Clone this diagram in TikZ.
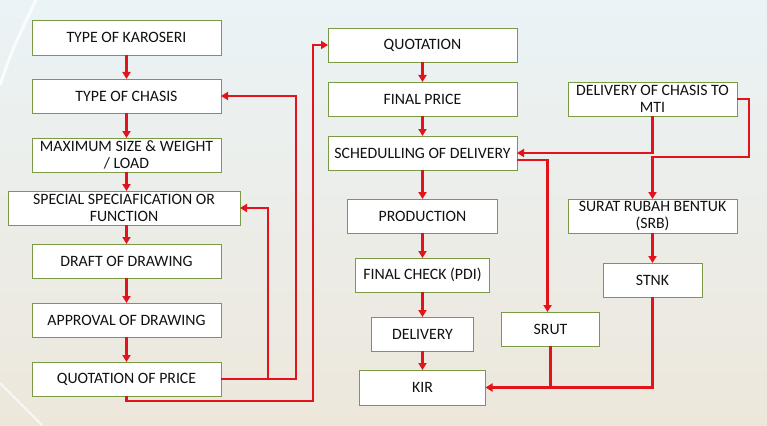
\documentclass[tikz,border=0pt]{standalone}
\usepackage{fontspec}
\setmainfont{Carlito}
\usetikzlibrary{arrows.meta, positioning}
\definecolor{boxline}{HTML}{7A9A48}
\definecolor{flowred}{HTML}{E3121B}
\definecolor{bgtop}{HTML}{EAF3F6}
\definecolor{bgbottom}{HTML}{EDE7DB}
\definecolor{txt}{HTML}{111111}

\begin{document}
\begin{tikzpicture}[
    node distance=24pt,
    box/.style={rectangle, draw=boxline, line width=0.8pt, fill=white, minimum width=189pt, minimum height=34pt, inner sep=1pt, outer sep=0pt, align=center, text=txt, font=\fontsize{15.8}{17}\selectfont},
    arrow/.style={-{Triangle[length=7pt, width=8pt]}, draw=flowred, line width=2.2pt},
    line/.style={draw=flowred, line width=2.2pt},
]

% background
\useasboundingbox (0,0) rectangle (767pt,-425pt);
\shade[top color=bgtop, bottom color=bgbottom] (0,0) rectangle (767pt,-425pt);
\draw[white, line width=3pt, opacity=0.8] (0,-85pt) .. controls (12pt,-50pt) .. (36pt,0);
\draw[white, line width=2pt, opacity=0.7] (0,-383pt) -- (42pt,-425pt);

% Left column: design
\node[box, minimum height=35pt] (karoseri) at (126.5pt,-37.5pt) {TYPE OF KAROSERI};
\node[box, below=24pt of karoseri] (chasis) {TYPE OF CHASIS};
\node[box, below=25pt of chasis] (maxsize) {MAXIMUM SIZE \& WEIGHT\\/ LOAD};
\node[box, minimum width=232pt, below=19pt of maxsize, xshift=-2.5pt] (special) {SPECIAL SPECIAFICATION OR\\FUNCTION};
\node[box, below=19pt of special, xshift=2.5pt] (draft) {DRAFT OF DRAWING};
\node[box, below=25pt of draft] (approval) {APPROVAL OF DRAWING};
\node[box, below=25pt of approval] (quotprice) {QUOTATION OF PRICE};

% Middle column: order
\node[box] (quotation) at (422.5pt,-45pt) {QUOTATION};
\node[box, below=20pt of quotation] (finalprice) {FINAL PRICE};
\node[box, below=20pt of finalprice] (schedule) {SCHEDULLING OF DELIVERY};
\node[box, minimum width=150pt, below=29pt of schedule] (production) {PRODUCTION};
\node[box, minimum width=134pt, below=25pt of production] (finalcheck) {FINAL CHECK (PDI)};
\node[box, minimum width=102pt, below=25pt of finalcheck] (delivery) {DELIVERY};
\node[box, minimum width=126pt, minimum height=35pt, below=19pt of delivery] (kir) {KIR};

% Right column: documents
\node[box, minimum width=169pt] (chasismti) at (652.5pt,-99pt) {DELIVERY OF CHASIS TO\\MTI};
\node[box, minimum width=169pt, below=83pt of chasismti] (srb) {SURAT RUBAH BENTUK\\(SRB)};
\node[box, minimum width=99pt, below=30pt of srb] (stnk) {STNK};
\node[box, minimum width=98pt, right=28pt of delivery, yshift=5pt] (srut) {SRUT};

% Arrows
\draw[arrow] (karoseri) -- (chasis);
\draw[arrow] (chasis) -- (maxsize);
\draw[arrow] (maxsize) -- (maxsize |- special.north);
\draw[arrow] (draft |- special.south) -- (draft);
\draw[arrow] (draft) -- (approval);
\draw[arrow] (approval) -- (quotprice);
\draw[arrow] (quotprice.east) -- ++(47pt,0) |- (special.east);
\draw[arrow] (quotprice.east) -- ++(75pt,0) |- (chasis.east);
\draw[arrow] (quotprice.south) -- ++(0,-5pt) -| ([xshift=-15pt]quotation.west) -- (quotation.west);

\draw[arrow] (quotation) -- (finalprice);
\draw[arrow] (finalprice) -- (schedule);
\draw[arrow] (schedule) -- (production);
\draw[arrow] (production) -- (finalcheck);
\draw[arrow] (finalcheck) -- (delivery);
\draw[arrow] (delivery) -- (kir);

\draw[arrow] (chasismti.south) |- (schedule.east);
\draw[arrow] (chasismti.east) -- ++(12pt,0) |- ([yshift=42pt]srb.north) -- (srb.north);
\draw[arrow] ([yshift=-7pt]schedule.east) -| ([xshift=-3pt]srut.north);
\draw[arrow] (srb) -- (stnk);
\draw[arrow] (stnk.south) |- (kir.east);
\draw[line] (srut.south) -- (srut.south |- kir.east);

\end{tikzpicture}
\end{document}
